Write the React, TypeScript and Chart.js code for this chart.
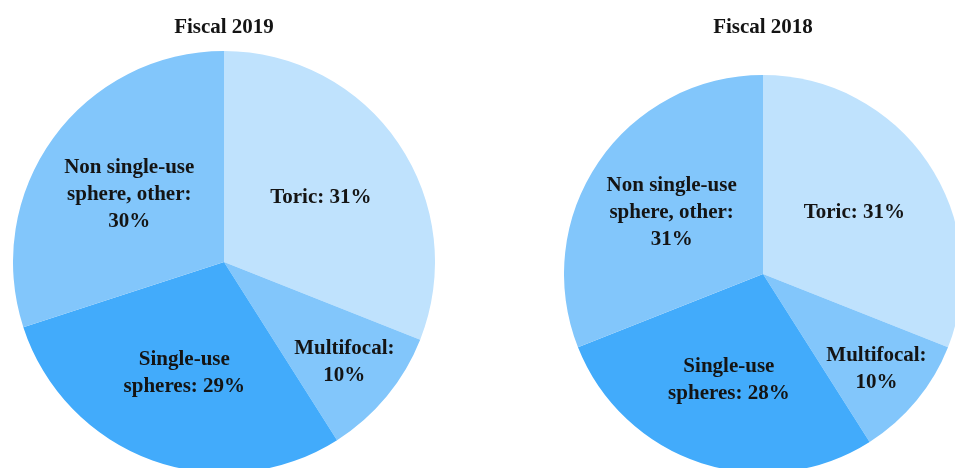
import React, { useEffect, useRef } from "react";
import { Chart, registerables } from "chart.js";

Chart.register(...registerables);

const categories = ["Toric", "Multifocal", "Single-use spheres", "Non single-use sphere, other"];
const labelLayouts = [["Toric: {v}"], ["Multifocal:", "{v}"], ["Single-use", "spheres: {v}"], ["Non single-use", "sphere, other:", "{v}"]];
const values2019 = [31, 10, 29, 30];
const values2018 = [31, 10, 28, 31];
const titles = ["Fiscal 2019", "Fiscal 2018"];
const colors = ["#bfe2fd", "#82c6fb", "#42abfb", "#82c6fb"];

const FONT = "'Liberation Serif', 'Times New Roman', serif";

const labelPlugin = {
  id: "sliceLabels",
  afterDatasetsDraw(chart: any) {
    const ctx = chart.ctx;
    const meta = chart.getDatasetMeta(0);
    const data = chart.data.datasets[0].data as number[];
    const total = data.reduce((a, b) => a + b, 0);
    ctx.save();
    ctx.font = `bold 21px ${FONT}`;
    ctx.fillStyle = "#141414";
    ctx.textAlign = "center";
    ctx.textBaseline = "middle";
    meta.data.forEach((arc: any, i: number) => {
      const p = arc.getProps(["x", "y", "startAngle", "endAngle", "outerRadius"], true);
      const mid = (p.startAngle + p.endAngle) / 2;
      const f = data[i] / total < 0.15 ? 0.74 : 0.555;
      const cx = p.x + Math.cos(mid) * p.outerRadius * f;
      const cy = p.y + Math.sin(mid) * p.outerRadius * f;
      const lines = labelLayouts[i].map((l) => l.replace("{v}", data[i] + "%"));
      const lh = 27;
      lines.forEach((line, j) => {
        ctx.fillText(line, cx, cy + 1 + (j - (lines.length - 1) / 2) * lh);
      });
    });
    ctx.restore();
  },
};

function PieChart(props: { values: number[]; title: string; left: number; width: number; height: number; titleBottom: number }) {
  const ref = useRef<HTMLCanvasElement | null>(null);
  useEffect(() => {
    if (!ref.current) return;
    const chart = new Chart(ref.current, {
      type: "pie",
      data: {
        labels: categories,
        datasets: [
          {
            data: props.values,
            backgroundColor: colors,
            borderWidth: 0,
          },
        ],
      },
      options: {
        responsive: false,
        animation: false,
        layout: { padding: 0 },
        plugins: {
          legend: { display: false },
          tooltip: { enabled: false },
          title: {
            display: true,
            text: props.title,
            color: "#141414",
            font: { family: FONT, size: 21, weight: "bold", lineHeight: 1.2 },
            padding: { top: 15, bottom: props.titleBottom },
          },
        },
      },
      plugins: [labelPlugin],
    });
    return () => chart.destroy();
  }, []);
  return (
    <canvas
      ref={ref}
      width={props.width}
      height={props.height}
      style={{ position: "absolute", left: props.left, top: 0, width: props.width, height: props.height }}
    />
  );
}

export default function App() {
  return (
    <div style={{ position: "fixed", left: 0, top: 0, width: 955, height: 468, overflow: "hidden", background: "#fff" }}>
      <PieChart values={values2019} title={titles[0]} left={13} width={422} height={473} titleBottom={10.8} />
      <PieChart values={values2018} title={titles[1]} left={564} width={398} height={473} titleBottom={34.8} />
    </div>
  );
}
